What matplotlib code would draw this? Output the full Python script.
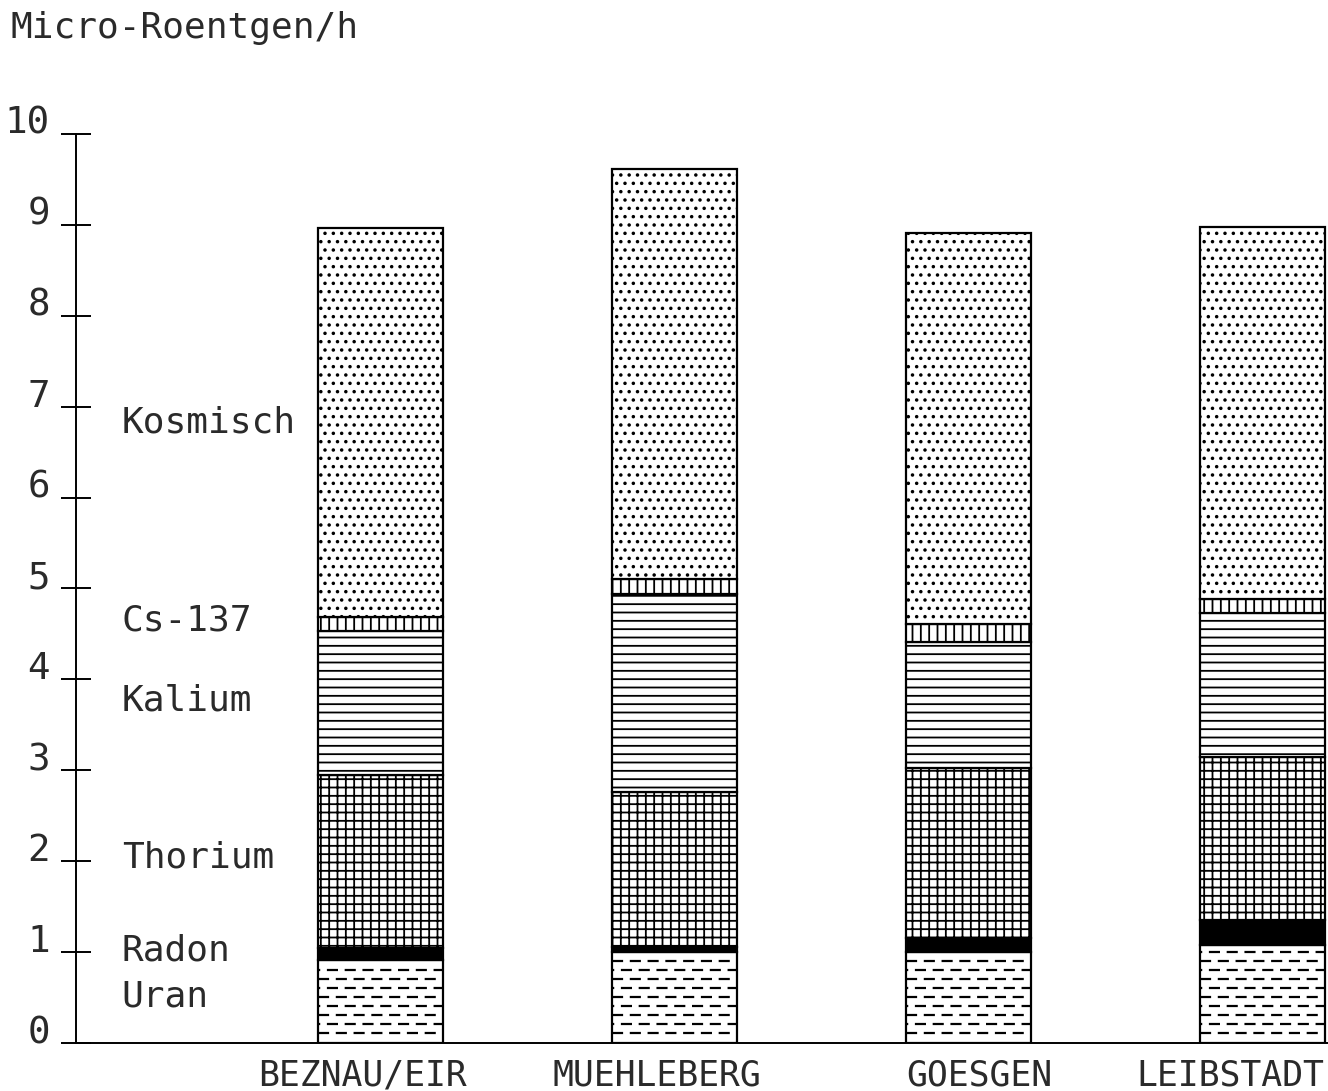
import numpy as np
import matplotlib
matplotlib.use('Agg')
import matplotlib.pyplot as plt

# Strahlung bei den Kernkraftwerken, Micro-Roentgen/h
stations = ["BEZNAU/EIR", "MUEHLEBERG", "GOESGEN", "LEIBSTADT"]
uran = [0.91, 1.00, 1.00, 1.08]
radon = [0.13, 0.06, 0.15, 0.27]
thorium = [1.91, 1.70, 1.88, 1.80]
kalium = [1.58, 2.18, 1.38, 1.58]
cs137 = [0.16, 0.17, 0.20, 0.15]
kosmisch = [4.28, 4.50, 4.30, 4.10]
yticks = [0, 1, 2, 3, 4, 5, 6, 7, 8, 9, 10]

plt.rcParams['font.family'] = ['DejaVu Sans Mono']
plt.rcParams['hatch.linewidth'] = 1.3
plt.rcParams['hatch.color'] = 'black'

fig = plt.figure(figsize=(13.28, 10.91), dpi=100)
ax = fig.add_axes([76/1328, 1 - 1043/1091, 1 - 76/1328, (1043 - 134)/1091])

x = np.arange(len(stations))
w = 0.425
kw = dict(width=w, edgecolor='black', linewidth=1.6)

bot = np.zeros(len(stations))
ur = ax.bar(x, uran, bottom=bot, color='white', **kw)
# dashed fill for Uran
for i, r in enumerate(ur):
    rows = np.arange(0.11, uran[i] - 0.05, 0.099)
    for k, yy in enumerate(rows):
        ln, = ax.plot([x[i] - w/2, x[i] + w/2], [yy, yy], color='black', lw=1.6,
                      linestyle=(4.0 * (k % 2), (5, 3)))
        ln.set_dash_capstyle('butt')
        ln.set_clip_path(r)
bot += uran
ax.bar(x, radon, bottom=bot, color='black', **kw)
bot += radon
ax.bar(x, thorium, bottom=bot, color='white', hatch='++', **kw)
bot += thorium
ax.bar(x, kalium, bottom=bot, color='white', hatch='--', **kw)
bot += kalium
ax.bar(x, cs137, bottom=bot, color='white', hatch='||', **kw)
bot += cs137
ax.bar(x, kosmisch, bottom=bot, color='white', hatch='..', **kw)

# labels of the layers at the left
names = ["Kosmisch", "Cs-137", "Kalium", "Thorium", "Radon", "Uran"]
name_y = [6.83, 4.65, 3.77, 2.04, 1.02, 0.51]
for n, yy in zip(names, name_y):
    ax.text(-0.878, yy, n, fontsize=26, va='center', ha='left', color='#2a2a2a')

ax.set_xlim(-1.034, 3.224)
ax.set_ylim(0, 10)
ax.set_yticks(yticks)
ax.set_yticklabels([str(t) for t in yticks])
for lab in ax.get_yticklabels():
    lab.set_verticalalignment('baseline')
ax.set_xticks([])

for s in ['top', 'right']:
    ax.spines[s].set_visible(False)
for s in ['left', 'bottom']:
    ax.spines[s].set_linewidth(1.4)
ax.tick_params(axis='y', direction='inout', length=21.6, width=1.4,
               labelsize=27, pad=8, labelcolor='#2a2a2a')

shift = [-0.058, -0.058, 0.037, -0.109]
for i, st in enumerate(stations):
    ax.text(x[i] + shift[i], -0.36, st, fontsize=25, ha='center', va='center',
            clip_on=False, color='#2a2a2a')

fig.text(10/1328, 1 - 38/1091, "Micro-Roentgen/h", fontsize=26, va='baseline',
         ha='left', color='#2a2a2a')

fig.savefig('out.png', dpi=100)
